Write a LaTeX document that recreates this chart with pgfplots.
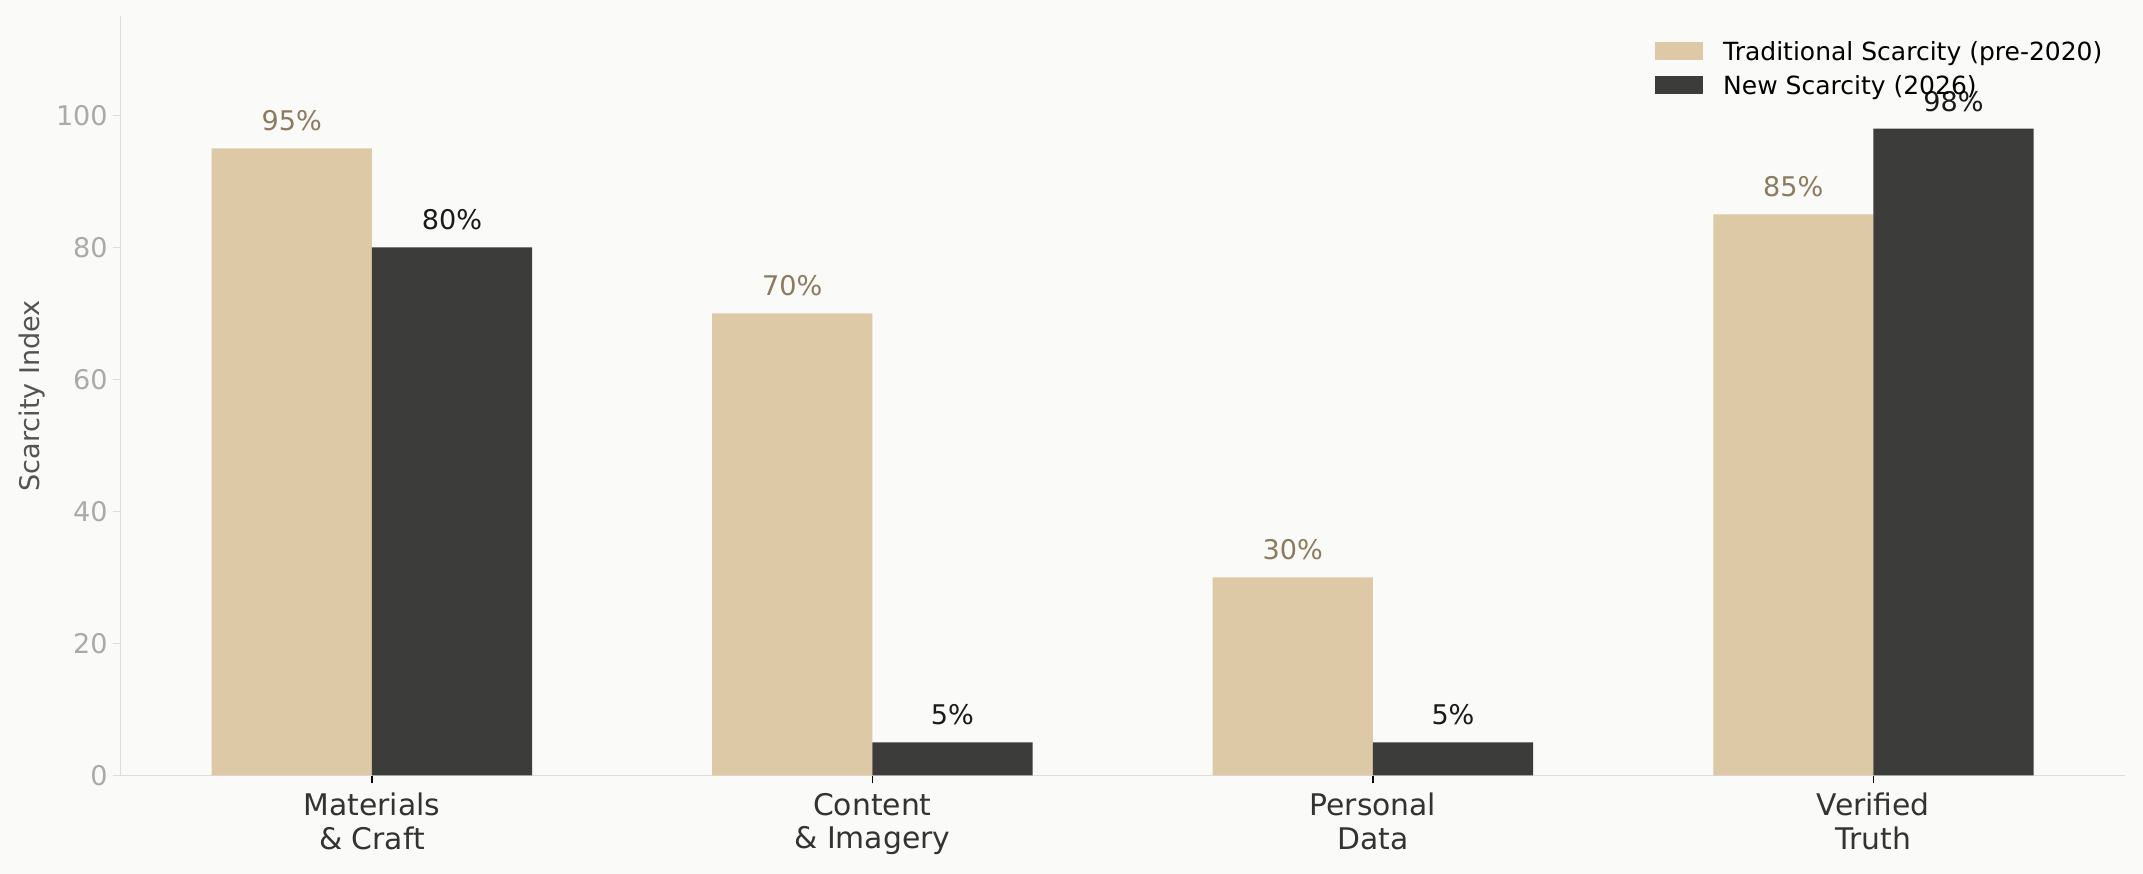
\documentclass[border=0pt]{standalone}
\usepackage{pgfplots}
\pgfplotsset{compat=1.18}
\usepackage{fontspec}
\setmainfont{DejaVu Sans}

\definecolor{bgc}{HTML}{FAFAF8}
\definecolor{beige}{HTML}{DDC9A5}
\definecolor{darkbar}{HTML}{3C3C3A}
\definecolor{beigetxt}{HTML}{8C7B5E}
\definecolor{darktxt}{HTML}{1A1A1A}
\definecolor{spine}{HTML}{DDDDDD}
\definecolor{ticklab}{HTML}{AAAAAA}

\begin{document}
\begin{tikzpicture}
  \fill[bgc] (-57.9pt,-47.2pt) rectangle (970.7pt,372.2pt);
  \begin{axis}[
    at={(0pt,0pt)}, anchor=south west,
    scale only axis,
    width=961.9pt, height=364.3pt,
    xmin=-0.502, xmax=3.502,
    ymin=0, ymax=115,
    axis x line*=bottom, axis y line*=left,
    axis line style={draw=spine, line width=0.8pt},
    ybar, bar width=0.32,
    xtick={0,1,2,3},
    xticklabels={Materials\\\& Craft, Content\\\& Imagery, Personal\\Data, Verified\\Truth},
    xticklabel style={align=center, text=black!80, inner sep=0pt, anchor=north, yshift=-4.6pt,
      font=\fontsize{14.3}{15.9}\selectfont},
    ytick={0,20,...,100},
    yticklabel style={text=ticklab, inner sep=0pt, anchor=east, xshift=-2.2pt,
      font=\fontsize{13}{15}\selectfont},
    /pgf/number format/assume math mode=true,
    tick align=outside,
    major tick length=3.8pt,
    xtick style={draw=black, line width=0.8pt},
    ytick style={draw=spine, line width=0.8pt},
    every axis y label/.style={at={(rel axis cs:0,0.5)}, xshift=-42.5pt, rotate=90, anchor=center},
    ylabel={Scarcity Index},
    ylabel style={text=black!67, font=\fontsize{13}{15}\selectfont},
    nodes near coords={\pgfmathprintnumber{\pgfplotspointmeta}\%},
    every node near coord/.append style={anchor=base, inner sep=0pt, yshift=8.4pt,
      font=\fontsize{13}{15}\selectfont},
    legend image code/.code={\fill[#1] (0pt,-3.6pt) rectangle (23pt,5.0pt);},
    legend cell align=left,
    legend style={draw=none, fill=none, inner sep=0pt, outer sep=0pt,
      at={(rel axis cs:1,1)}, anchor=north west, xshift=-225.3pt, yshift=-12.0pt,
      font=\fontsize{12}{14}\selectfont, row sep=5.6pt,
      nodes={inner sep=0pt},
      /tikz/every odd column/.append style={column sep=9.6pt}},
    clip=false,
  ]
    \addplot[bar shift=-0.16, fill=beige, draw=none,
      every node near coord/.append style={text=beigetxt}]
      coordinates {(0,95) (1,70) (2,30) (3,85)};
    \addlegendentry{Traditional Scarcity (pre-2020)}
    \addplot[bar shift=0.16, fill=darkbar, draw=none,
      every node near coord/.append style={text=darktxt}]
      coordinates {(0,80) (1,5) (2,5) (3,98)};
    \addlegendentry{New Scarcity (2026)}
  \end{axis}
  \pgfresetboundingbox
  \useasboundingbox (-57.9pt,-47.2pt) rectangle (970.7pt,372.2pt);
\end{tikzpicture}
\end{document}
